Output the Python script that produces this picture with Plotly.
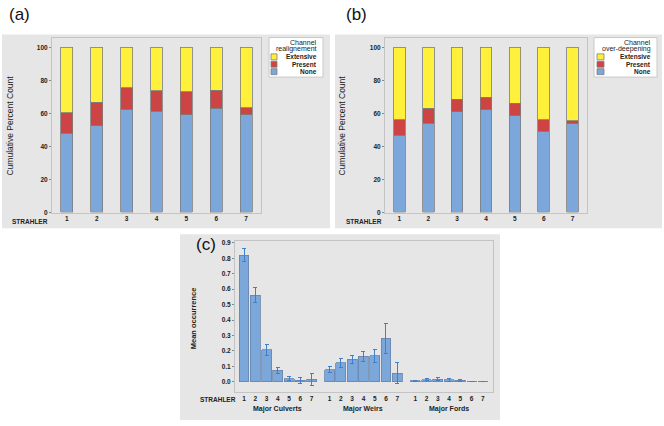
import plotly.graph_objects as go

# ---------------- data ----------------
strahler = [1, 2, 3, 4, 5, 6, 7]
tick_labels = ["1", "2", "3", "4", "5", "6", "7"]
series_names = ["None", "Present", "Extensive"]

# (a) Channel realignement: cumulative percent tops
a_none_top = [48.1, 52.5, 62.5, 61.3, 59.3, 63.1, 59.3]
a_present_top = [60.4, 66.9, 75.5, 73.9, 73.3, 74.1, 63.5]
# (b) Channel over-deepening
b_none_top = [46.9, 54.1, 60.9, 62.3, 58.7, 49.3, 53.7]
b_present_top = [56.1, 63.1, 68.6, 69.9, 66.1, 56.1, 55.7]

# (c) mean occurrence
groups = ["Major Culverts", "Major Weirs", "Major Fords"]
culverts_mean = [0.821, 0.561, 0.207, 0.075, 0.021, 0.009, 0.015]
culverts_err = [0.043, 0.047, 0.036, 0.019, 0.015, 0.021, 0.038]
weirs_mean = [0.079, 0.124, 0.147, 0.164, 0.168, 0.281, 0.055]
weirs_err = [0.021, 0.030, 0.026, 0.032, 0.041, 0.096, 0.067]
fords_mean = [0.006, 0.013, 0.017, 0.013, 0.011, 0.0, 0.0]
fords_err = [0.004, 0.006, 0.009, 0.008, 0.006, 0.0, 0.0]

# ---------------- style ----------------
BLUE = "#7ba7da"
RED = "#cc4444"
YELLOW = "#fff03c"
COLORS = {"None": BLUE, "Present": RED, "Extensive": YELLOW}
OUTLINE = "#7d7d7d"
PANEL = "#e6e6e6"
FONT = "Liberation Sans, Arial, sans-serif"
TXT = "#222222"

W, H = 664, 426
def px(x):
    return x / W
def py(y):
    return 1 - y / H

fig = go.Figure()

def stacked(none_top, present_top, xa, ya):
    vals = {
        "None": none_top,
        "Present": [p - n for p, n in zip(present_top, none_top)],
        "Extensive": [100 - p for p in present_top],
    }
    for name in series_names:
        fig.add_trace(go.Bar(
            x=strahler, y=vals[name], name=name, width=0.4, showlegend=False,
            marker=dict(color=COLORS[name], line=dict(color=OUTLINE, width=0.8)),
            xaxis=xa, yaxis=ya, hoverinfo="skip"))

stacked(a_none_top, a_present_top, "x", "y")
stacked(b_none_top, b_present_top, "x2", "y2")

# (c) positions: groups of 7 with gap
gap = 7.6
c_x = []
c_mean = culverts_mean + weirs_mean + fords_mean
c_err = culverts_err + weirs_err + fords_err
for gi in range(3):
    for s in strahler:
        c_x.append(s + gi * gap)
fig.add_trace(go.Bar(
    x=c_x, y=c_mean, width=0.88, showlegend=False,
    marker=dict(color=BLUE, line=dict(color="#6a84a8", width=0.8)),
    error_y=dict(type="data", array=c_err, visible=True, color="#3f7fcc", thickness=1, width=2),
    xaxis="x3", yaxis="y3", hoverinfo="skip"))

tickfont = dict(family=FONT, size=6.5, color=TXT, weight="bold")
axis_common = dict(showline=True, linecolor="#c4c4c4", linewidth=1, mirror=True,
                   showgrid=False, zeroline=False, tickfont=tickfont)

fig.update_layout(
    width=W, height=H, margin=dict(l=0, r=0, t=0, b=0),
    paper_bgcolor="white", plot_bgcolor="white", barmode="stack",
    font=dict(family=FONT, size=7, color=TXT),
    xaxis=dict(domain=[px(52), px(261)], range=[0.5, 7.5], tickvals=strahler, ticktext=tick_labels,
               ticks="", anchor="y", **axis_common),
    yaxis=dict(domain=[py(213), py(36)], range=[0, 106], tickvals=[0, 20, 40, 60, 80, 100],
               ticks="outside", ticklen=2, tickcolor="#888", anchor="x", **axis_common),
    xaxis2=dict(domain=[px(385), px(587)], range=[0.5, 7.5], tickvals=strahler, ticktext=tick_labels,
                ticks="", anchor="y2", **axis_common),
    yaxis2=dict(domain=[py(213), py(36)], range=[0, 106], tickvals=[0, 20, 40, 60, 80, 100],
                ticks="outside", ticklen=2, tickcolor="#888", anchor="x2", **axis_common),
    xaxis3=dict(domain=[px(235), px(493)], range=[0.2, 23.1],
                tickvals=c_x, ticktext=tick_labels * 3, ticks="", anchor="y3", **axis_common),
    yaxis3=dict(domain=[py(395), py(242)], range=[-0.0685, 0.911],
                tickvals=[0, 0.1, 0.2, 0.3, 0.4, 0.5, 0.6, 0.7, 0.8, 0.9], tickformat=".1f",
                ticks="outside", ticklen=2, tickcolor="#888", anchor="x3", **axis_common),
)

# gray panels
for (x0, x1, y0, y1) in [(2, 330, 33, 229), (335, 662, 33, 229), (180, 500, 235, 423)]:
    fig.add_shape(type="rect", xref="paper", yref="paper", x0=px(x0), x1=px(x1),
                  y0=py(y1), y1=py(y0), fillcolor=PANEL, line=dict(width=0), layer="below")

ann = []
small_bold = dict(family=FONT, size=6.5, color=TXT, weight="bold")
# legends (drawn as boxes + swatches + text)
legend_specs = [
    dict(box=(269, 323, 36, 76), title=["Channel", "realignement"], text_right=319, sw_x=(271, 277)),
    dict(box=(594, 657, 36, 76), title=["Channel", "over-deepening"], text_right=653, sw_x=(597, 604)),
]
title_y = [41, 48]
entry_order = ["Extensive", "Present", "None"]
entry_y = [55.5, 63, 70.5]
for spec in legend_specs:
    bx0, bx1, by0, by1 = spec["box"]
    fig.add_shape(type="rect", xref="paper", yref="paper", x0=px(bx0), x1=px(bx1),
                  y0=py(by1), y1=py(by0), fillcolor="white", line=dict(color="#c8c8c8", width=1))
    for t, yy in zip(spec["title"], title_y):
        ann.append(dict(text=t, x=px(spec["text_right"]), y=py(yy), xref="paper", yref="paper",
                        showarrow=False, xanchor="right", yanchor="middle",
                        font=dict(family=FONT, size=7, color=TXT)))
    for name, yy in zip(entry_order, entry_y):
        sx0, sx1 = spec["sw_x"]
        fig.add_shape(type="rect", xref="paper", yref="paper", x0=px(sx0), x1=px(sx1),
                      y0=py(yy + 3), y1=py(yy - 3), fillcolor=COLORS[name],
                      line=dict(color=OUTLINE, width=0.8))
        ann.append(dict(text=name, x=px(spec["text_right"]), y=py(yy), xref="paper", yref="paper",
                        showarrow=False, xanchor="right", yanchor="middle", font=small_bold))

for txt, x, y in [("(a)", 19, 13), ("(b)", 356, 13), ("(c)", 206, 245)]:
    ann.append(dict(text=txt, x=px(x), y=py(y), xref="paper", yref="paper", showarrow=False,
                    font=dict(family=FONT, size=17, color="#111"), xanchor="center", yanchor="middle"))
for x, y in [(30, 222), (364, 222), (218, 402)]:
    ann.append(dict(text="STRAHLER", x=px(x), y=py(y), xref="paper", yref="paper", showarrow=False,
                    font=small_bold, xanchor="center", yanchor="middle"))
for txt, x, y, wt in [("Cumulative Percent Count", 10, 125, "normal"),
                      ("Cumulative Percent Count", 342, 125, "normal"),
                      ("Mean occurrence", 193, 320, "bold")]:
    ann.append(dict(text=txt, x=px(x), y=py(y), xref="paper", yref="paper", showarrow=False,
                    textangle=-90, font=dict(family=FONT, size=8.5 if wt == "normal" else 7.5,
                                             color=TXT, weight=wt),
                    xanchor="center", yanchor="middle"))
for gi, g in enumerate(groups):
    ann.append(dict(text=g, x=4 + gi * gap, y=py(412), xref="x3", yref="paper", showarrow=False,
                    font=dict(family=FONT, size=7, color=TXT, weight="bold"),
                    xanchor="center", yanchor="middle"))
fig.update_layout(annotations=ann)

fig.write_html("out.html", config={"displayModeBar": False},
               post_script="document.body.style.margin='0px';")
